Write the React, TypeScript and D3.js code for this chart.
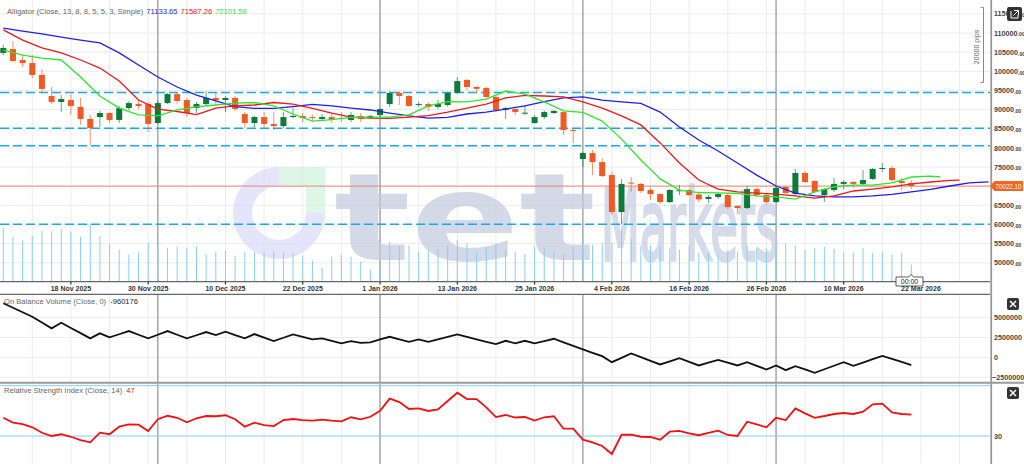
import React from 'react';
import * as d3 from 'd3';

// ---------------- DATA ----------------
const openP = [104800,105800,102950,102150,99050,93550,92000,92500,90700,87550,88050,89100,87300,90400,91450,91450,86500,91700,94050,92500,90400,91450,93050,92500,93050,88850,86500,88050,86250,85700,88050,88350,88050,87550,88050,87800,87300,88350,87800,88600,91450,94350,93550,91200,91450,90700,91200,94350,97750,95900,95650,93300,89900,90150,89100,86500,88050,89100,89350,84650,77100,78650,76300,72900,63250,70950,70600,69000,67950,65850,68900,69000,67850,66650,67200,67700,64850,64300,69250,67700,65850,69800,67950,73450,71350,67700,69000,70600,71100,70600,71900,74500,74750,71350,70850];
const highP = [106900,107900,104250,104250,100600,95900,93800,94050,93050,88600,89650,89350,90950,92250,92500,92000,92250,94350,94350,93050,92000,94850,94600,93550,93550,89350,88350,89350,89350,89350,90400,89100,88700,88850,89100,89350,89350,89100,88600,90400,94850,94850,93800,92000,92000,92500,94600,98500,98000,96150,95900,93800,90700,90700,91200,88600,89750,89900,89650,84950,78950,79450,77350,73700,71900,72400,70850,69550,68250,69250,70300,69250,68250,67700,68250,67950,65100,70050,69550,67950,70050,70050,74500,73950,71600,69550,72150,71600,71350,74250,74750,76050,75250,72150,71600];
const lowP = [104250,102400,101100,98250,94350,91450,89350,88600,86000,80750,85450,86500,86500,89900,90150,84150,86300,91450,91450,88050,89100,90950,91200,89350,89650,85200,85450,85200,84650,85200,87800,86750,86750,87300,86500,86750,86750,86750,87550,88050,90700,91200,90700,90700,89650,90150,90700,94050,95100,94600,93050,89350,87550,88600,88600,86250,87550,88850,83350,81300,75000,72900,72400,62500,60150,68500,68200,66400,65350,65600,67700,67450,65850,65600,66650,64050,62750,64050,67200,65600,65600,67950,67700,70850,68200,65850,68500,69250,69550,70300,71600,73700,71350,69000,69250];
const closeP = [106100,102700,102150,99050,95400,92000,92750,90950,87550,85200,89100,87300,90400,91700,90950,86250,91700,94050,92250,89100,91450,93050,92500,93050,90150,86500,88050,86250,85700,88050,88350,87800,87800,88050,87300,87550,88600,87550,88350,90150,94350,93550,90950,91450,90700,91450,94350,97450,95900,95400,93300,89900,90400,89350,89200,88050,89350,89650,84650,84500,78650,76300,72650,63250,70600,70700,68750,67950,65850,69000,68950,67700,66550,67200,67950,64550,64300,69250,67700,65850,69550,68250,73450,71100,68500,69250,70600,71100,70600,71600,74500,74750,71600,70850,70022.1];
// volume in thousands
const volumeK = [691,576,525,589,653,640,678,640,576,730,589,474,410,346,371,499,435,435,448,435,448,346,384,397,333,384,384,371,384,371,371,333,269,179,320,346,320,256,154,230,512,448,461,384,410,422,461,538,486,384,435,486,410,384,358,448,435,384,346,448,461,474,499,499,666,550,461,461,461,422,410,461,371,371,346,397,384,461,435,422,474,486,461,410,435,448,422,371,371,435,371,384,346,371,218];
// Alligator lines, read every 2 bars (shifted forward beyond last bar)
const jawIdx = d3.range(0, 103, 2);
const jawVal = [111300,110500,109750,108950,108150,107400,104800,101650,98500,95900,93800,92250,90800,90300,90300,90800,91350,90950,90400,89900,89100,88350,87800,87950,88850,89350,90150,90950,92100,93050,93300,92500,92000,91600,89350,85450,82050,79200,76050,72900,70050,68200,67450,67200,67200,67450,67850,68500,69150,70050,70850,71133.65];
const teethIdx = [...d3.range(0, 99, 2), 99];
const teethVal = [110800,108150,106100,104800,102950,100850,97450,92500,90150,89500,88700,90400,90950,91200,91850,91450,90300,89100,88050,87800,87700,88050,88450,89350,90400,91450,93050,93700,93550,93300,92000,90400,88350,86000,81300,76050,71600,69250,68500,68200,67950,67450,66900,67450,68750,69250,69800,70600,71100,71500,71587.26];
const lipsIdx = [...d3.range(0, 97, 2), 97];
const lipsVal = [105550,104250,103450,102950,98500,93550,90400,88600,88350,89900,90700,91200,91700,91850,90950,88850,87000,87400,87950,88050,88050,88600,90950,92100,92000,92750,94850,94050,92000,89650,89250,87000,82300,76850,71900,69000,68350,68250,68100,67450,67200,66650,68500,69800,70300,70300,70850,72400,72650,72400];
const obv = [6818200,6250000,5681800,5126300,4393900,3661600,4368700,3712100,3055600,2399000,3030300,2525300,2916700,3320700,2853500,2399000,2853500,3320700,2853500,2399000,2790400,3194500,2815700,3232300,2815700,2399000,2941900,2500000,2058100,2474800,2904000,2588400,2272700,2399000,2083300,1767700,2058100,1843400,1893900,2272700,2601000,2285400,1969700,2272700,1969700,2285400,2588400,2904000,2588400,2272700,1969700,1679300,2096000,1767700,2096000,1767700,2058100,2348500,1906600,1452000,1010100,580800,164100,-593400,-50500,505100,37900,-429300,-883800,-492400,-88400,-555600,-1010100,-656600,-303000,-656600,-1010100,-593400,-1060600,-1515200,-1010100,-1603500,-1098500,-1515200,-1944400,-1489900,-1048000,-593400,-1060600,-643900,-214600,202000,-176800,-555600,-960176];
const rsi = [44.5,40.6,39.5,36.9,32.6,30,31.4,29.4,26.8,25,32.6,31.4,37.4,39.3,39,34,43.3,46.1,44.5,40.9,44.1,45.9,45.7,46.5,43.3,37.4,40.6,38.7,37.9,42.7,43.5,42.7,42.2,43,42.2,41.7,44.9,43.3,45.3,50.1,59.7,57,51.5,52,49.9,51.2,57.8,64.4,59.4,59.4,52.8,45.1,46.7,44.7,45.1,42.2,44.9,45.7,35.8,35.8,27.1,25,22.1,15.7,31,31,29.4,29.2,27.1,33.4,34,32.1,30.6,32.4,34.2,30.8,30,41.4,39.3,36.9,44.5,42.7,52,48,44.5,45.9,47.5,48.3,47.5,49.3,55.2,55.7,48.8,47.5,47];
const levelLines = [94450, 85120, 80570, 60050];
const lastPrice = 70022.1;
const priceTicks = d3.range(50000, 115001, 5000);
const obvTicks = [5000000, 2500000, 0, -2500000];
const rsiLevels = [30, 70];
const dateTickIdx = [7, 15, 23, 31, 39, 47, 55, 63, 71, 79, 87, 95];
const dateLabels = ['18 Nov 2025', '30 Nov 2025', '10 Dec 2025', '22 Dec 2025', '1 Jan 2026', '13 Jan 2026', '25 Jan 2026', '4 Feb 2026', '16 Feb 2026', '26 Feb 2026', '10 Mar 2026', '22 Mar 2026'];
const monthStartIdx = [16, 39, 60, 80];
const legendVals = ['71133.65', '71587.26', '72101.58'];

const FONT = '"Liberation Sans", Arial, sans-serif';
const UP = '#0c7a3a';
const DOWN = '#f15a22';

export default function App() {
  const x = d3.scaleLinear().domain([0, 94]).range([3.3, 911.3]);
  const y = d3.scaleLinear().domain([50000, 115000]).range([262.8, 13.85]);
  const yVol = d3.scaleLinear().domain([0, 1280]).range([281.7, 181.7]);
  const yObv = d3.scaleLinear().domain([-2500000, 5000000]).range([377.3, 317.7]);
  const yRsi = d3.scaleLinear().domain([30, 70]).range([436, 385.7]);

  const plotR = 990;
  const gridIdx = d3.range(3, 102, 4);

  const mkLine = (idx: number[], vals: number[]) =>
    d3.line<number>().x((_, i) => x(idx[i])).y((v) => y(v))(vals) || '';
  const obvPath = d3.line<number>().x((_, i) => x(i)).y((v) => yObv(v))(obv) || '';
  const rsiPath = d3.line<number>().x((_, i) => x(i)).y((v) => yRsi(v))(rsi) || '';

  const ringArc = d3.arc()({ innerRadius: 27, outerRadius: 46, startAngle: Math.PI / 2, endAngle: Math.PI * 2 }) || '';
  const ly = y(lastPrice);

  return (
    <svg width={1024} height={464} style={{ position: 'absolute', left: 0, top: 0, background: '#fff' }} fontFamily={FONT}>
      <defs>
        <clipPath id="pc"><rect x={0} y={0} width={plotR} height={281} /></clipPath>
        <clipPath id="oc"><rect x={0} y={295} width={plotR} height={87} /></clipPath>
        <clipPath id="rc"><rect x={0} y={384} width={plotR} height={80} /></clipPath>
      </defs>
      <rect x={0} y={0} width={1024} height={464} fill="#fff" />

      {/* grids */}
      {priceTicks.map((p) => (
        <line key={'hg' + p} x1={0} x2={plotR} y1={y(p)} y2={y(p)} stroke="#ececec" strokeWidth={1} />
      ))}
      {obvTicks.map((v) => (
        <line key={'og' + v} x1={0} x2={plotR} y1={yObv(v)} y2={yObv(v)} stroke="#ececec" strokeWidth={1} />
      ))}
      {gridIdx.map((i) => (
        <g key={'vg' + i}>
          <line x1={x(i)} x2={x(i)} y1={0} y2={281} stroke="#ececec" />
          <line x1={x(i)} x2={x(i)} y1={295} y2={382} stroke="#ececec" />
          <line x1={x(i)} x2={x(i)} y1={384} y2={464} stroke="#ececec" />
        </g>
      ))}
      {monthStartIdx.map((i) => (
        <g key={'ms' + i}>
          <line x1={x(i)} x2={x(i)} y1={0} y2={281} stroke="#9a9a9a" strokeWidth={1.3} />
          <line x1={x(i)} x2={x(i)} y1={295} y2={382} stroke="#9a9a9a" strokeWidth={1.3} />
          <line x1={x(i)} x2={x(i)} y1={384} y2={464} stroke="#9a9a9a" strokeWidth={1.3} />
        </g>
      ))}

      {/* watermark */}
      <g opacity={0.7}>
        <path d={ringArc} transform="translate(279,213)" fill="#d9dbf8" />
        <rect x={279} y={167} width={46} height={19} fill="#cff3df" />
        <rect x={306} y={167} width={19} height={46} fill="#cff3df" />
        <text x={334} y={260} fontSize={122} fontWeight={700} fill="#c3cadd" textLength={262} lengthAdjust="spacingAndGlyphs" fontFamily='"DejaVu Sans", sans-serif'>tet</text>
        <text x={601} y={260} fontSize={98} fontWeight={400} fill="#c6cce0" stroke="#c6cce0" strokeWidth={3.5} textLength={178} lengthAdjust="spacingAndGlyphs" fontFamily='"DejaVu Sans", sans-serif'>Markets</text>
      </g>

      <g clipPath="url(#pc)">
        {/* volume */}
        {volumeK.map((v, i) => (
          <line key={'v' + i} x1={x(i)} x2={x(i)} y1={yVol(0)} y2={yVol(v)} stroke="#86d0f2" strokeWidth={1} />
        ))}
        {/* levels */}
        {levelLines.map((p) => (
          <line key={'lv' + p} x1={0} x2={plotR} y1={y(p)} y2={y(p)} stroke="#18a8ec" strokeWidth={1.4} strokeDasharray="9,4" />
        ))}
        <line x1={0} x2={plotR} y1={ly} y2={ly} stroke="#ee8a70" strokeWidth={1} />
        {/* candles */}
        {openP.map((o, i) => {
          const c = closeP[i];
          const up = c >= o;
          const col = up ? UP : DOWN;
          const top = y(Math.max(o, c));
          const bot = y(Math.min(o, c));
          return (
            <g key={'c' + i}>
              <line x1={x(i)} x2={x(i)} y1={y(highP[i])} y2={y(lowP[i])} stroke={col} strokeOpacity={0.65} strokeWidth={1} />
              <rect x={x(i) - 3} y={top} width={6} height={Math.max(1, bot - top)} fill={col} />
            </g>
          );
        })}
        {/* alligator */}
        <path d={mkLine(jawIdx, jawVal)} fill="none" stroke="#1f1fe6" strokeWidth={1.3} />
        <path d={mkLine(teethIdx, teethVal)} fill="none" stroke="#f01818" strokeWidth={1.3} />
        <path d={mkLine(lipsIdx, lipsVal)} fill="none" stroke="#2ee62e" strokeWidth={1.3} />
      </g>

      {/* legend */}
      <text x={7} y={13.5} fontSize={7.6} fill="#666">
        Alligator (Close, 13, 8, 8, 5, 5, 3, Simple)
        <tspan dx={3} fill="#2a2ad6">{legendVals[0]}</tspan>
        <tspan dx={3} fill="#e52020">{legendVals[1]}</tspan>
        <tspan dx={3} fill="#3ae03a">{legendVals[2]}</tspan>
      </text>

      {/* bottom date axis */}
      <line x1={0} x2={plotR} y1={281.7} y2={281.7} stroke="#666" strokeWidth={1.2} />
      {dateTickIdx.map((i, k) => (
        <g key={'dt' + i}>
          <line x1={x(i)} x2={x(i)} y1={281.7} y2={284.5} stroke="#333" strokeWidth={1.2} />
          <text x={x(i)} y={291.3} fontSize={7} fontWeight={700} fill="#333" textAnchor="middle">{dateLabels[k]}</text>
        </g>
      ))}
      <line x1={0} x2={plotR} y1={294.3} y2={294.3} stroke="#666" strokeWidth={1.2} />

      {/* OBV */}
      <g clipPath="url(#oc)">
        <path d={obvPath} fill="none" stroke="#111" strokeWidth={1.8} />
      </g>
      <text x={4} y={304} fontSize={7.6} fill="#666">
        On Balance Volume (Close, 0)
        <tspan dx={4} fill="#222">-960176</tspan>
      </text>
      <line x1={0} x2={1024} y1={382.8} y2={382.8} stroke="#9a9a9a" strokeWidth={2} />

      {/* RSI */}
      {rsiLevels.map((v) => (
        <line key={'rl' + v} x1={0} x2={plotR} y1={yRsi(v)} y2={yRsi(v)} stroke="#7fd2f3" strokeWidth={1} />
      ))}
      <g clipPath="url(#rc)">
        <path d={rsiPath} fill="none" stroke="#f51010" strokeWidth={1.8} />
      </g>
      <text x={4} y={393} fontSize={7.6} fill="#666">
        Relative Strength Index (Close, 14)
        <tspan dx={4} fill="#e52020">47</tspan>
      </text>

      {/* right axis */}
      <line x1={991.2} x2={991.2} y1={0} y2={464} stroke="#999" strokeWidth={1.8} />
      {priceTicks.filter((p) => Math.abs(y(p) - ly) > 8).map((p) => (
        <text key={'pl' + p} x={994} y={y(p) + 2.6} fontSize={7.2} fontWeight={700} fill="#444">
          {d3.format('d')(p)}<tspan fontSize={5.2} dy={0.8}>.00</tspan>
        </text>
      ))}
      {obvTicks.map((v) => (
        <text key={'ol' + v} x={v < 0 ? 992 : 994} y={yObv(v) + 2.6} fontSize={7.2} fontWeight={700} fill="#444">{d3.format('d')(v)}</text>
      ))}
      <text x={994} y={yRsi(30) + 2.6} fontSize={7.2} fontWeight={700} fill="#444">30</text>

      {/* last price tag */}
      <path d={`M990,${ly} L994.5,${ly - 5} L1023,${ly - 5} L1023,${ly + 5} L994.5,${ly + 5} Z`} fill="#f26522" />
      <text x={995.5} y={ly + 2.4} fontSize={6.6} fill="#fff" textLength={26} lengthAdjust="spacingAndGlyphs">{lastPrice.toFixed(2)}</text>

      {/* pips bracket */}
      <g stroke="#888" strokeWidth={1} fill="none">
        <path d={`M980.5,${y(115000) - 6.5} L983.5,${y(115000) - 6.5} L983.5,${y(95000) - 8} L980.5,${y(95000) - 8}`} />
      </g>
      <text transform={`translate(978.5,47) rotate(-90)`} fontSize={7} fill="#666" textAnchor="middle">20000 pips</text>

      {/* top-right icon */}
      <rect x={1007} y={7} width={15} height={14} rx={2} fill="#333" />
      <path d="M1011,11 L1011,18 L1018,18 L1018,15 M1014,10.5 L1018.5,10.5 L1018.5,15 M1018.5,10.5 L1013.5,15.5" stroke="#fff" strokeWidth={1} fill="none" />

      {/* close buttons */}
      {[298, 387].map((yy) => (
        <g key={'cb' + yy}>
          <rect x={1007} y={yy} width={12} height={12} rx={2} fill="#333" />
          <path d={`M1010,${yy + 3} L1016,${yy + 9} M1016,${yy + 3} L1010,${yy + 9}`} stroke="#fff" strokeWidth={1.5} />
        </g>
      ))}

      {/* time box */}
      <path d="M896,277 L908.5,277 L911,274.5 L913.5,277 L923,277 L923,286 L896,286 Z" fill="#fff" stroke="#333" strokeWidth={0.8} />
      <text x={909.5} y={284} fontSize={7} fill="#222" textAnchor="middle">00:00</text>
    </svg>
  );
}
